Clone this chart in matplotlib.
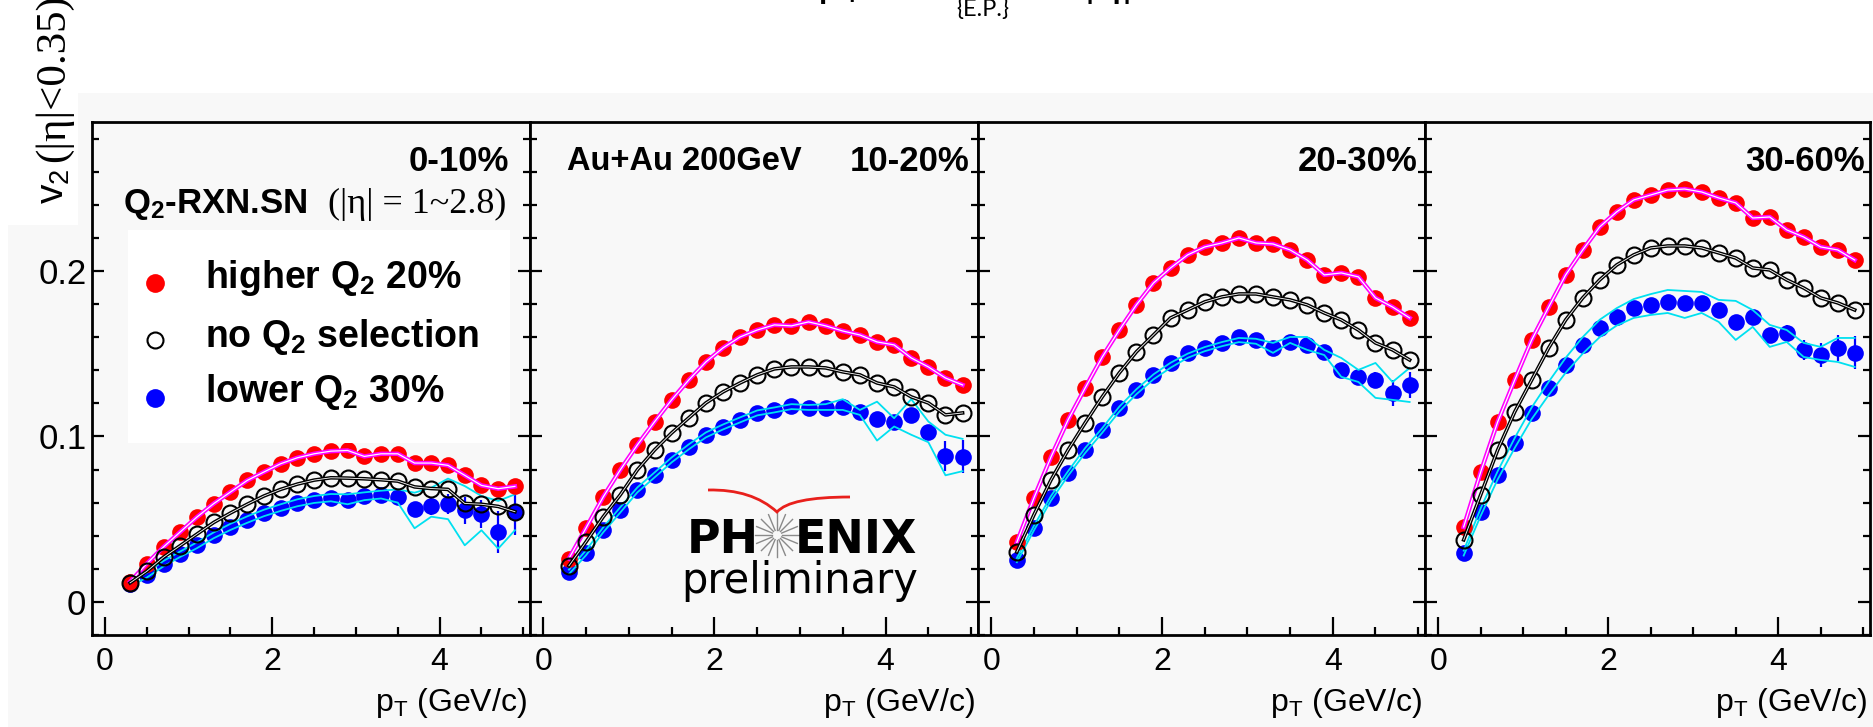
import numpy as np
import matplotlib
matplotlib.use("Agg")
import matplotlib.pyplot as plt
from matplotlib.patches import Rectangle, PathPatch
from matplotlib.path import Path
from matplotlib.lines import Line2D
from matplotlib.ticker import MultipleLocator, FuncFormatter

W, H = 1874, 727

# pT bin centres (GeV/c)
pt = [0.3, 0.5, 0.7, 0.9, 1.1, 1.3, 1.5, 1.7, 1.9, 2.1, 2.3, 2.5,
      2.7, 2.9, 3.1, 3.3, 3.5, 3.7, 3.9, 4.1, 4.3, 4.5, 4.7, 4.9]

centralities = ["0-10%", "10-20%", "20-30%", "30-60%"]

# ---- 0-10% ----
high_0_10 = [0.0121, 0.0231, 0.0332, 0.0423, 0.0513, 0.0594, 0.0664, 0.0734, 0.0785, 0.0835, 0.0871, 0.0895,
             0.0911, 0.0915, 0.0879, 0.0895, 0.0895, 0.0839, 0.0839, 0.0825, 0.0765, 0.0704, 0.0684, 0.0698]
all_0_10 = [0.0115, 0.0185, 0.0270, 0.0340, 0.0410, 0.0480, 0.0537, 0.0590, 0.0640, 0.0680, 0.0712, 0.0736,
            0.0750, 0.0748, 0.0744, 0.0738, 0.0730, 0.0695, 0.0685, 0.0680, 0.0595, 0.0590, 0.0577, 0.0545]
low_0_10 = [0.0107, 0.0161, 0.0231, 0.0288, 0.0342, 0.0402, 0.0453, 0.0497, 0.0537, 0.0569, 0.0598, 0.0618,
            0.0630, 0.0614, 0.0638, 0.0648, 0.0634, 0.0563, 0.0577, 0.0594, 0.0553, 0.0533, 0.0423, 0.0543]
low_err_0_10 = [0.0004, 0.0004, 0.0004, 0.0005, 0.0005, 0.0006, 0.0007, 0.0008, 0.0009, 0.0010, 0.0012, 0.0014,
                0.0016, 0.0019, 0.0022, 0.0026, 0.0030, 0.0040, 0.0050, 0.0060, 0.0080, 0.0085, 0.0125, 0.0140]
low_sys_hi_0_10 = [0.0120, 0.0176, 0.0248, 0.0305, 0.0360, 0.0420, 0.0472, 0.0517, 0.0557, 0.0590, 0.0620, 0.0640,
                   0.0652, 0.0650, 0.0662, 0.0672, 0.0680, 0.0660, 0.0690, 0.0745, 0.0700, 0.0640, 0.0610, 0.0650]
low_sys_lo_0_10 = [0.0095, 0.0147, 0.0215, 0.0272, 0.0325, 0.0385, 0.0435, 0.0478, 0.0518, 0.0550, 0.0578, 0.0598,
                   0.0608, 0.0590, 0.0615, 0.0625, 0.0600, 0.0445, 0.0515, 0.0500, 0.0342, 0.0433, 0.0322, 0.0433]

# ---- 10-20% ----
high_10_20 = [0.0262, 0.0447, 0.0634, 0.0798, 0.0949, 0.1088, 0.1221, 0.1341, 0.1450, 0.1535, 0.1601, 0.1643,
              0.1674, 0.1668, 0.1692, 0.1668, 0.1637, 0.1613, 0.1571, 0.1553, 0.1474, 0.1420, 0.1353, 0.1311]
all_10_20 = [0.0218, 0.0363, 0.0514, 0.0647, 0.0798, 0.0918, 0.1021, 0.1112, 0.1202, 0.1269, 0.1323, 0.1372,
             0.1408, 0.1420, 0.1420, 0.1414, 0.1390, 0.1372, 0.1323, 0.1299, 0.1239, 0.1202, 0.1130, 0.1142]
low_10_20 = [0.0181, 0.0296, 0.0435, 0.0556, 0.0677, 0.0767, 0.0858, 0.0937, 0.1009, 0.1057, 0.1100, 0.1142,
             0.1160, 0.1184, 0.1172, 0.1172, 0.1178, 0.1148, 0.1106, 0.1088, 0.1130, 0.1027, 0.0882, 0.0876]
low_err_10_20 = [0.0004, 0.0004, 0.0004, 0.0004, 0.0005, 0.0005, 0.0006, 0.0007, 0.0008, 0.0009, 0.0010, 0.0011,
                 0.0013, 0.0015, 0.0017, 0.0019, 0.0022, 0.0025, 0.0028, 0.0032, 0.0040, 0.0045, 0.0090, 0.0100]
low_sys_hi_10_20 = [0.0195, 0.0312, 0.0450, 0.0572, 0.0692, 0.0782, 0.0873, 0.0952, 0.1024, 0.1072, 0.1115, 0.1157,
                    0.1175, 0.1195, 0.1190, 0.1195, 0.1225, 0.1160, 0.1210, 0.1110, 0.1225, 0.1090, 0.1010, 0.0985]
low_sys_lo_10_20 = [0.0168, 0.0282, 0.0420, 0.0540, 0.0662, 0.0752, 0.0843, 0.0922, 0.0994, 0.1042, 0.1085, 0.1127,
                    0.1145, 0.1165, 0.1160, 0.1160, 0.1160, 0.1130, 0.0975, 0.1060, 0.1010, 0.0965, 0.0765, 0.0790]

# ---- 20-30% ----
high_20_30 = [0.0360, 0.0628, 0.0876, 0.1100, 0.1293, 0.1480, 0.1643, 0.1795, 0.1927, 0.2018, 0.2097, 0.2145,
              0.2169, 0.2199, 0.2169, 0.2163, 0.2127, 0.2066, 0.1976, 0.1988, 0.1964, 0.1837, 0.1782, 0.1716]
all_20_30 = [0.0302, 0.0526, 0.0737, 0.0918, 0.1082, 0.1239, 0.1384, 0.1511, 0.1613, 0.1716, 0.1764, 0.1813,
             0.1843, 0.1861, 0.1861, 0.1843, 0.1825, 0.1795, 0.1746, 0.1704, 0.1643, 0.1565, 0.1523, 0.1462]
low_20_30 = [0.0254, 0.0447, 0.0628, 0.0779, 0.0918, 0.1039, 0.1172, 0.1281, 0.1372, 0.1444, 0.1505, 0.1535,
             0.1565, 0.1601, 0.1583, 0.1535, 0.1571, 0.1553, 0.1511, 0.1402, 0.1360, 0.1341, 0.1263, 0.1311]
low_err_20_30 = [0.0004, 0.0004, 0.0004, 0.0004, 0.0005, 0.0005, 0.0006, 0.0007, 0.0008, 0.0009, 0.0010, 0.0011,
                 0.0013, 0.0015, 0.0017, 0.0019, 0.0022, 0.0025, 0.0028, 0.0032, 0.0040, 0.0050, 0.0080, 0.0080]
low_sys_hi_20_30 = [0.0265, 0.0460, 0.0640, 0.0790, 0.0930, 0.1050, 0.1180, 0.1285, 0.1375, 0.1445, 0.1500, 0.1540,
                    0.1570, 0.1595, 0.1590, 0.1565, 0.1601, 0.1601, 0.1523, 0.1474, 0.1402, 0.1444, 0.1329, 0.1414]
low_sys_lo_20_30 = [0.0240, 0.0432, 0.0612, 0.0762, 0.0900, 0.1022, 0.1150, 0.1255, 0.1345, 0.1415, 0.1475, 0.1515,
                    0.1545, 0.1570, 0.1560, 0.1505, 0.1565, 0.1523, 0.1492, 0.1360, 0.1329, 0.1233, 0.1221, 0.1208]

# ---- 30-60% ----
high_30_60 = [0.0453, 0.0785, 0.1088, 0.1341, 0.1583, 0.1782, 0.1976, 0.2127, 0.2266, 0.2357, 0.2429, 0.2459,
              0.2489, 0.2495, 0.2477, 0.2441, 0.2411, 0.2320, 0.2326, 0.2248, 0.2205, 0.2145, 0.2127, 0.2066]
all_30_60 = [0.0375, 0.0647, 0.0918, 0.1148, 0.1341, 0.1535, 0.1704, 0.1837, 0.1946, 0.2036, 0.2097, 0.2139,
             0.2151, 0.2151, 0.2139, 0.2109, 0.2078, 0.2018, 0.2006, 0.1946, 0.1897, 0.1837, 0.1807, 0.1764]
low_30_60 = [0.0296, 0.0544, 0.0767, 0.0961, 0.1142, 0.1293, 0.1432, 0.1553, 0.1656, 0.1722, 0.1776, 0.1795,
             0.1813, 0.1807, 0.1807, 0.1764, 0.1692, 0.1722, 0.1613, 0.1625, 0.1523, 0.1492, 0.1535, 0.1505]
low_err_30_60 = [0.0004, 0.0004, 0.0004, 0.0005, 0.0005, 0.0006, 0.0007, 0.0008, 0.0009, 0.0010, 0.0011, 0.0012,
                 0.0014, 0.0016, 0.0018, 0.0020, 0.0024, 0.0028, 0.0035, 0.0050, 0.0060, 0.0070, 0.0080, 0.0100]
low_sys_hi_30_60 = [0.0310, 0.0565, 0.0790, 0.0990, 0.1175, 0.1330, 0.1475, 0.1600, 0.1705, 0.1775, 0.1830, 0.1860,
                    0.1885, 0.1879, 0.1873, 0.1825, 0.1819, 0.1764, 0.1674, 0.1643, 0.1565, 0.1541, 0.1595, 0.1595]
low_sys_lo_30_60 = [0.0280, 0.0520, 0.0740, 0.0930, 0.1105, 0.1250, 0.1385, 0.1500, 0.1600, 0.1670, 0.1716, 0.1734,
                    0.1746, 0.1716, 0.1746, 0.1692, 0.1583, 0.1662, 0.1541, 0.1571, 0.1480, 0.1462, 0.1450, 0.1420]

panels = [
    (high_0_10, all_0_10, low_0_10, low_err_0_10, low_sys_hi_0_10, low_sys_lo_0_10),
    (high_10_20, all_10_20, low_10_20, low_err_10_20, low_sys_hi_10_20, low_sys_lo_10_20),
    (high_20_30, all_20_30, low_20_30, low_err_20_30, low_sys_hi_20_30, low_sys_lo_20_30),
    (high_30_60, all_30_60, low_30_60, low_err_30_60, low_sys_hi_30_60, low_sys_lo_30_60),
]

SANS = "Liberation Sans"
SERIF = "Liberation Serif"
BG = "#f8f8f8"
RED, BLUE, MAGENTA, CYAN = "#ff0000", "#0000ff", "#ff00ff", "#00e0f0"


def fx(x):
    return x / W


def fy(y):
    return 1 - y / H


fig = plt.figure(figsize=(W / 100, H / 100), dpi=100)
fig.patch.set_facecolor("white")

# grey canvas behind the pads, white corner for the y title
fig.add_artist(Rectangle((fx(8), 0), 1 - fx(8), fy(93), transform=fig.transFigure,
                         facecolor=BG, edgecolor="none", zorder=-2))
fig.add_artist(Rectangle((0, fy(225)), fx(78), 1 - fy(225), transform=fig.transFigure,
                         facecolor="white", edgecolor="none", zorder=-1))

pad_px = [(92, 530), (530, 978), (978, 1425), (1425, 1870)]
label_right = [509, 970, 1418, 1865]
top_px, bot_px = 122, 635

for i, ((l, r), data) in enumerate(zip(pad_px, panels)):
    high, allq, low, low_err, sys_hi, sys_lo = data
    ax = fig.add_axes([fx(l), fy(bot_px), (r - l) / W, (bot_px - top_px) / H])
    ax.set_facecolor(BG)
    ax.set_xlim(-0.155, 5.08)
    ax.set_ylim(-0.02, 0.29)
    ax.xaxis.set_major_locator(MultipleLocator(2))
    ax.xaxis.set_minor_locator(MultipleLocator(0.5))
    ax.yaxis.set_major_locator(MultipleLocator(0.1))
    ax.yaxis.set_minor_locator(MultipleLocator(0.02))
    ax.xaxis.set_major_formatter(FuncFormatter(lambda v, _: f"{v:g}"))
    ax.yaxis.set_major_formatter(FuncFormatter(lambda v, _: f"{v:g}"))
    ax.tick_params(which="both", direction="in", left=True, right=True, top=False,
                   bottom=True, width=1.6, colors="black")
    ax.tick_params(axis="x", which="major", length=13, pad=9, labelsize=23)
    ax.tick_params(axis="x", which="minor", length=6)
    ax.tick_params(axis="y", which="major", length=8.5, pad=4, labelsize=25)
    ax.tick_params(axis="y", which="minor", length=5)
    if i > 0:
        ax.tick_params(axis="y", labelleft=False)
    for lab in ax.get_xticklabels() + ax.get_yticklabels():
        lab.set_fontfamily(SANS)
    for sp in ax.spines.values():
        sp.set_linewidth(2)

    # lower Q2 selection with stat errors and systematic lines
    ax.errorbar(pt, low, yerr=low_err, fmt="none", ecolor=BLUE, elinewidth=1.6, capsize=0, zorder=2)
    ax.plot(pt, low, "o", color=BLUE, ms=12, mec="none", zorder=2)
    ax.plot(pt, sys_hi, color=CYAN, lw=1.3, zorder=3)
    ax.plot(pt, sys_lo, color=CYAN, lw=1.3, zorder=3)

    # higher Q2 selection
    ax.plot(pt, high, "o", color=RED, ms=12, mec="none", zorder=4)
    ax.plot(pt, high, color=MAGENTA, lw=3.2, zorder=5)
    ax.plot(pt, high, color="white", lw=0.9, zorder=5.1)

    # no selection
    ax.plot(pt, allq, "o", mfc="none", mec="black", mew=1.5, ms=11.5, zorder=6)
    ax.plot(pt, allq, color="black", lw=2.6, zorder=7)
    ax.plot(pt, allq, color="white", lw=0.6, zorder=7.1)

    fig.text(fx(label_right[i]), fy(171), centralities[i], ha="right", va="baseline",
             fontsize=25, fontweight="bold", family=SANS)
    fig.text(fx(r - 3), fy(711), r"p$\mathregular{_T}$ (GeV/c)", ha="right", va="baseline",
             fontsize=23, family=SANS)

fig.text(fx(567), fy(170), "Au+Au 200GeV", ha="left", va="baseline",
         fontsize=23.5, fontweight="bold", family=SANS)

# reaction plane detector text
fig.text(fx(123), fy(213), r"Q$\mathregular{_2}$-RXN.SN", ha="left", va="baseline",
         fontsize=25, fontweight="bold", family=SANS)
fig.text(fx(506), fy(213), "(|η| = 1~2.8)", ha="right", va="baseline",
         fontsize=26, family=SERIF)

# legend
fig.add_artist(Rectangle((fx(128), fy(443)), (510 - 128) / W, (443 - 230) / H,
                         transform=fig.transFigure, facecolor="white", edgecolor="none", zorder=2))
legend_rows = [
    (283, 288, dict(marker="o", color=RED, ms=13.5, mec="none"), r"higher Q$\mathregular{_2}$ 20%"),
    (340, 347, dict(marker="o", mfc="none", mec="black", mew=1.5, ms=11.5), r"no Q$\mathregular{_2}$ selection"),
    (398, 402, dict(marker="o", color=BLUE, ms=13.5, mec="none"), r"lower Q$\mathregular{_2}$ 30%"),
]
for y_mark, y_text, style, text in legend_rows:
    fig.add_artist(Line2D([fx(155)], [fy(y_mark)], transform=fig.transFigure, ls="none",
                          zorder=3, **style))
    fig.text(fx(205), fy(y_text), text, ha="left", va="baseline", fontsize=27,
             fontweight="bold", family=SANS, zorder=4)

# y axis title
fig.text(fx(64), fy(204), r"v$\mathregular{_2}$", rotation=90, rotation_mode="anchor",
         ha="left", va="baseline", fontsize=28, family=SANS)
fig.text(fx(64), fy(162), "(|η|<0.35)", rotation=90, rotation_mode="anchor",
         ha="left", va="baseline", fontsize=31, family=SERIF)

# title running off the top edge
fig.text(fx(950), fy(-4), r"p$\mathregular{_T}$ of v", ha="right", va="baseline",
         fontsize=32, family="Lato")
fig.text(fx(956), fy(16), "{E.P.}", ha="left", va="baseline", fontsize=17, family="Lato")
fig.text(fx(1035), fy(-4), "at |η|", ha="left", va="baseline", fontsize=32, family="Lato")

# PHENIX preliminary logo
fig.text(fx(687), fy(553), "PH", ha="left", va="baseline", fontsize=33,
         fontweight="bold", family="DejaVu Sans", zorder=5)
fig.text(fx(917), fy(553), "ENIX", ha="right", va="baseline", fontsize=33,
         fontweight="bold", family="DejaVu Sans", zorder=5)
fig.text(fx(800), fy(593), "preliminary", ha="center", va="baseline", fontsize=30,
         family="DejaVu Sans", zorder=5)
cx, cy = 777, 535
for ang in np.linspace(0, 2 * np.pi, 16, endpoint=False):
    x0, y0 = cx + 5 * np.cos(ang), cy + 5 * np.sin(ang)
    x1, y1 = cx + 22 * np.cos(ang), cy + 22 * np.sin(ang)
    fig.add_artist(Line2D([fx(x0), fx(x1)], [fy(y0), fy(y1)], transform=fig.transFigure,
                          color="#8a8a8a", lw=1.0, zorder=5))
swoosh = Path([(fx(708), fy(490)), (fx(752), fy(489)), (fx(777), fy(512)),
               (fx(790), fy(497)), (fx(850), fy(497))],
              [Path.MOVETO, Path.CURVE3, Path.CURVE3, Path.CURVE3, Path.CURVE3])
fig.add_artist(PathPatch(swoosh, transform=fig.transFigure, facecolor="none",
                         edgecolor="#e8201c", lw=2.0, zorder=5))

fig.savefig("out.png", dpi=100)
